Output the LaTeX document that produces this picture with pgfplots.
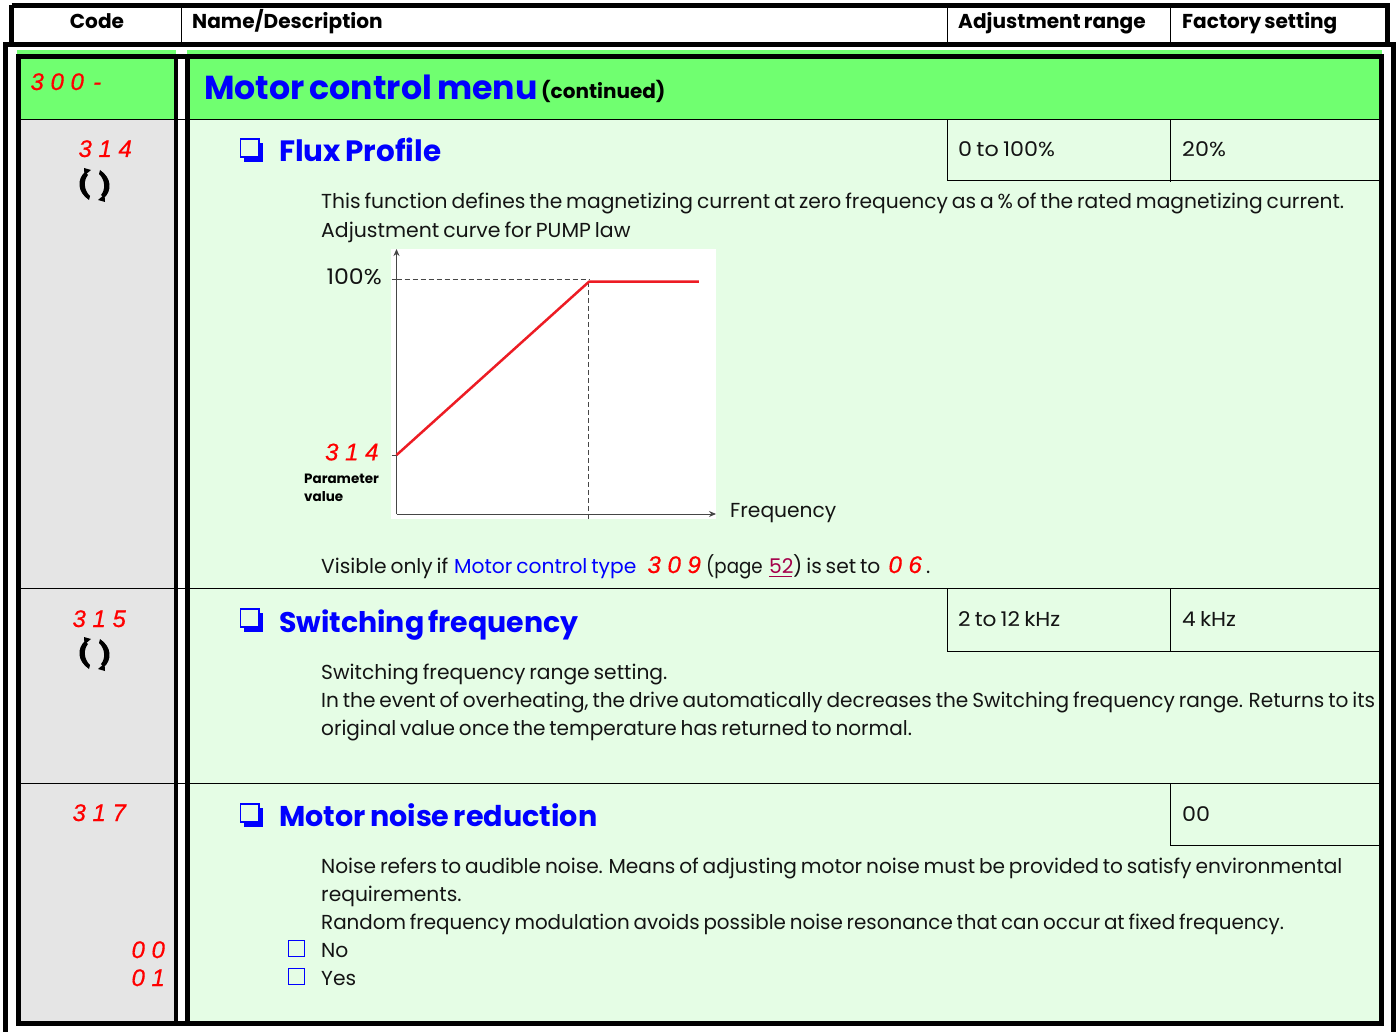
\documentclass[border=0pt]{standalone}
\usepackage{fontspec}
\usepackage{graphicx}
\usepackage{pgfplots}
\pgfplotsset{compat=1.18}
\usetikzlibrary{arrows.meta}
\setmainfont{Poppins}[WordSpace=0.72]
\newfontfamily\segfont{Liberation Sans}[FakeBold=0.5]
\definecolor{hgreen}{RGB}{112,255,112}
\definecolor{lgreen}{RGB}{229,253,229}
\definecolor{lgray}{RGB}{229,229,229}
\definecolor{tblue}{RGB}{0,0,255}
\definecolor{sred}{RGB}{255,0,0}
\definecolor{cred}{RGB}{237,28,36}
\definecolor{lnk}{RGB}{165,0,74}
\definecolor{txt}{RGB}{20,20,20}
\definecolor{axc}{RGB}{70,70,70}
\newcommand\sg[1]{\makebox[20pt][c]{#1}}
\newcommand\segs[1]{{\segfont\itshape\fontsize{24}{24}\selectfont\color{sred}#1}}
\newcommand\body[3]{\node[anchor=base west,inner sep=0pt,text=txt] at (#1,#2) {\fontsize{20.25}{20.25}\selectfont #3};}
\newcommand\bodyw[4]{\node[anchor=base west,inner sep=0pt,text=txt] at (#1,#2) {\scalebox{#3}[1]{\fontsize{20.25}{20.25}\selectfont #4}};}
\newcommand\hdr[3]{\node[anchor=base west,inner sep=0pt,text=black] at (#1,#2) {\fontsize{20.1}{20.1}\selectfont\bfseries #3};}
\newcommand\ttl[4]{\node[anchor=base west,inner sep=0pt,text=tblue] at (#1,#2) {\fontsize{#3}{#3}\selectfont\bfseries #4};}
\newcommand\code[3]{\node[anchor=base west,inner sep=0pt] at (#1,#2) {\segs{#3}};}
\newcommand\chk[1]{%
 \fill[tblue] (244,#1+5) rectangle (263,#1+24);
 \fill[lgreen] (241,#1+2) rectangle (259,#1+19);
 \draw[tblue,line width=1.1pt] (240.5,#1+1) rectangle (259,#1+19);}
\newcommand\halfrot{%
 \fill[black] (91,-15) -- (84,-17) -- (84.5,-9.5) -- cycle;
 \fill[black] (85,-13) .. controls (77,-6) and (77,7) .. (89,15) -- (90,11) .. controls (83.5,5) and (83.5,-5) .. (88,-10) -- cycle;}
\newcommand\rot[1]{%
 \begin{scope}[yshift=-#1pt]\halfrot\end{scope}
 \begin{scope}[yshift=-#1pt,shift={(94.5,0)},rotate=180,shift={(-94.5,0)}]\halfrot\end{scope}}
\begin{document}
\begin{tikzpicture}[x=1pt,y=-1pt]
\path[use as bounding box] (0,0) rectangle (1396,1032);
\fill[white] (0,0) rectangle (1396,1032);
% colour fields
\fill[hgreen] (17,50) rectangle (176,119);
\fill[hgreen] (187,50) rectangle (1382,119);
\fill[lgray] (20,119) rectangle (174,1021);
\fill[lgreen] (190,119) rectangle (1379,1021);
% header frame
\draw[black,line width=5pt] (11.5,5.5) -- (1387.5,5.5) -- (1387.5,44.5);
\draw[black,line width=5pt] (11.5,5.5) -- (11.5,44.5);
\draw[black,line width=5pt] (3,44.5) -- (1396,44.5);
\draw[black,line width=5pt] (5.5,44) -- (5.5,1032);
\draw[black,line width=5pt] (1393.5,44) -- (1393.5,1032);
\foreach \x in {181.5,947.5,1170.5} \draw[black,line width=1pt] (\x,8) -- (\x,42);
% inner frame
\draw[black,line width=5pt] (18,56.5) -- (1381.5,56.5) -- (1381.5,1023.5) -- (18,1023.5) -- cycle;
\draw[black,line width=4.5pt] (176,56) -- (176,1023);
\draw[black,line width=5pt] (187.5,56) -- (187.5,1023);
% row lines
\foreach \y in {119.5,588.5,783.5} \draw[black,line width=1pt] (20,\y) -- (1379,\y);
\draw[black,line width=1pt] (947.5,119.5) -- (947.5,181) -- (1379,181);
\draw[black,line width=1pt] (1170.5,119.5) -- (1170.5,182);
\draw[black,line width=1pt] (947.5,588.5) -- (947.5,651) -- (1379,651);
\draw[black,line width=1pt] (1170.5,588.5) -- (1170.5,652);
\draw[black,line width=1pt] (1170.5,783.5) -- (1170.5,845) -- (1379,845);
% header text
\node[anchor=base,inner sep=0pt] at (97,29) {\fontsize{20.1}{20.1}\selectfont\bfseries Code};
\hdr{192}{29}{Name/Description}
\hdr{958}{29}{Adjustment range}
\hdr{1182}{29}{Factory setting}
% titles
\ttl{204}{100}{33.2}{Motor control menu}
\node[anchor=base west,inner sep=0pt,text=black] at (541,99) {\fontsize{20}{20}\selectfont\bfseries (continued)};
\ttl{279}{162}{29.4}{Flux Profile}
\ttl{279}{632}{28.4}{Switching frequency}
\ttl{279}{826}{28.6}{Motor noise reduction}
\chk{138}\chk{608}\chk{803}
% codes
\code{27}{90}{\sg3\sg0\sg0\sg-}
\code{75}{157}{\sg3\sg1\sg4}
\code{69}{627}{\sg3\sg1\sg5}
\code{69}{821}{\sg3\sg1\sg7}
\code{128}{958}{\sg0\sg0}
\code{128}{986}{\sg0\sg1}
\rot{185}\rot{654}
% cells
\bodyw{958}{157}{1.1}{0 to 100\%}
\bodyw{1182}{157}{1.1}{20\%}
\bodyw{958}{626}{1.07}{2 to 12 kHz}
\bodyw{1182}{626}{1.07}{4 kHz}
\bodyw{1182}{821}{1.1}{00}
% paragraphs
\body{321}{209}{This function defines the magnetizing current at zero frequency as a \% of the rated magnetizing current.}
\bodyw{321}{237}{1.01}{Adjustment curve for PUMP law}
\body{321}{573}{Visible only if}
\node[anchor=base west,inner sep=0pt,text=tblue] at (454,573) {\fontsize{20.25}{20.25}\selectfont Motor control type};
\code{644}{573}{\sg3\sg0\sg9}
\bodyw{706}{573}{0.9}{(page}
\node[anchor=base west,inner sep=0pt,text=lnk] at (769,573) {\fontsize{20.25}{20.25}\selectfont 52};
\draw[lnk,line width=1pt] (769,576.5) -- (792,576.5);
\body{793}{573}{) is set to}
\code{885}{573}{\sg0\sg6}
\body{926}{573}{.}
\body{321}{679}{Switching frequency range setting.}
\bodyw{321}{707}{0.9925}{In the event of overheating, the drive automatically decreases the Switching frequency range. Returns to its}
\bodyw{321}{735}{0.99}{original value once the temperature has returned to normal.}
\bodyw{321}{873}{0.994}{Noise refers to audible noise. Means of adjusting motor noise must be provided to satisfy environmental}
\body{321}{901}{requirements.}
\bodyw{321}{929}{0.982}{Random frequency modulation avoids possible noise resonance that can occur at fixed frequency.}
\body{321}{957}{No}
\body{321}{985}{Yes}
\draw[tblue,line width=1.4pt] (288.7,940.7) rectangle (304.3,956.3);
\draw[tblue,line width=1.4pt] (288.7,968.7) rectangle (304.3,984.3);
% chart
\fill[white] (391,249) rectangle (716,519);
\coordinate (origin) at (396.5,514);
\begin{axis}[
  at={(origin)},anchor=south west,
  scale only axis,width=319.5pt,height=265pt,
  xmin=0,xmax=166,ymin=0,ymax=114.2,
  axis lines=left,
  axis line style={color=axc,line width=1pt,-{Stealth[length=7pt,width=6pt]}},
  xtick={100},xticklabels={},
  ytick={25.4,100.9},yticklabels={{\segs{\sg3\sg1\sg4}},{\scalebox{1.1}[1]{\fontsize{21.5}{21.5}\selectfont 100\%}}},
  tick align=outside,
  major tick length=5pt,
  tick style={color=axc,line width=1pt},
  yticklabel style={anchor=east,inner sep=0pt,xshift=-9.5pt,yshift=3pt,text=txt},
  xlabel={\fontsize{20.25}{20.25}\selectfont Frequency},
  every axis x label/.style={at={(axis description cs:1,0)},anchor=base west,xshift=14pt,yshift=-3pt,inner sep=0pt,text=txt},
  ylabel={Parameter\\value},
  every axis y label/.style={at={(axis description cs:0,0)},anchor=north west,align=left,font=\fontsize{13.5}{17.5}\selectfont\bfseries,xshift=-92.5pt,yshift=40pt,inner sep=0pt,text=black},
  clip=false,
]
\addplot[axc,line width=1pt,dash pattern=on 5pt off 3pt] coordinates {(0,100.9) (100,100.9)};
\addplot[axc,line width=1pt,dash pattern=on 5pt off 3pt] coordinates {(100,100) (100,0)};
\addplot[cred,line width=2.5pt,line join=round] coordinates {(0,25.4) (100,100.1) (157.1,100.1)};
\end{axis}
\end{tikzpicture}
\end{document}
